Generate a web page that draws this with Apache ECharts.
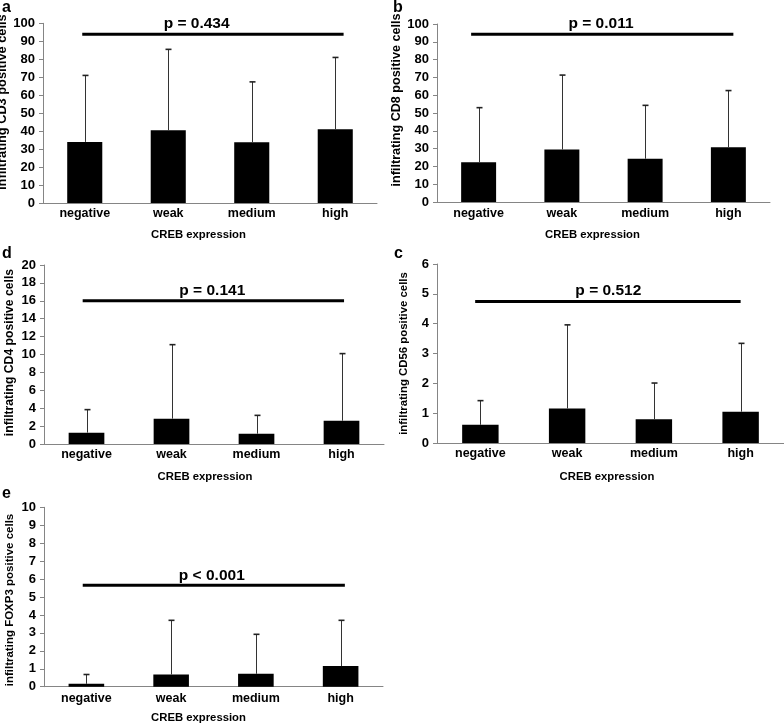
<!DOCTYPE html>
<html>
<head>
<meta charset="utf-8">
<script src="https://cdn.jsdelivr.net/npm/echarts@6/dist/echarts.min.js"></script>
<style>html,body{margin:0;padding:0;background:#fff}#chart{width:784px;height:726px}</style>
</head>
<body>
<div id="chart"></div>
<script>
// ---- data ----
const categories = ['negative', 'weak', 'medium', 'high'];
const xAxisTitle = 'CREB expression';

const cd3Mean = [34, 40.5, 33.8, 41];
const cd3ErrTop = [71, 85.5, 67.4, 81];
const cd8Mean = [22.4, 29.5, 24.3, 30.8];
const cd8ErrTop = [53, 71.3, 54.3, 62.6];
const cd4Mean = [1.27, 2.83, 1.15, 2.6];
const cd4ErrTop = [3.84, 11.1, 3.2, 10.1];
const cd56Mean = [0.61, 1.16, 0.8, 1.05];
const cd56ErrTop = [1.42, 3.96, 2.01, 3.34];
const foxp3Mean = [0.16, 0.68, 0.72, 1.15];
const foxp3ErrTop = [0.68, 3.7, 2.92, 3.7];

const pTexts = ['p = 0.434', 'p = 0.011', 'p = 0.141', 'p = 0.512', 'p < 0.001'];
const yTitles = ['infiltrating CD3 positive cells', 'infiltrating CD8 positive cells',
  'infiltrating CD4 positive cells', 'infiltrating CD56 positive cells', 'infiltrating FOXP3 positive cells'];
const panelLetters = ['a', 'b', 'd', 'c', 'e'];
const yMaxes = [100, 100, 20, 6, 10];
const yIntervals = [10, 10, 2, 1, 1];
const pBarLevels = [93.9, 94.2, 16.0, 4.74, 5.65];

// ---- layout (positions / styles) ----
const layout = [
  {grid: {left: 43, top: 23.3, width: 334, height: 179.7}, line: [-0.03, 3.1], text: [1.34, 100], xPad: 23, yPad: 22, yFs: 12.8, letter: [2, 9], xGap: 26, catMargin: 4},
  {grid: {left: 437, top: 24, width: 333, height: 178}, line: [-0.09, 3.06], text: [1.47, 100], xPad: 22, yPad: 26, yFs: 12.6, letter: [393, 8.5], xGap: 27, catMargin: 5},
  {grid: {left: 44, top: 265, width: 340, height: 179}, line: [-0.045, 3.03], text: [1.48, 17.17], xPad: 18, yPad: 4, yFs: 12.2, letter: [2, 255], xGap: 27, catMargin: 4},
  {grid: {left: 437, top: 264, width: 347, height: 179}, line: [-0.06, 3.0], text: [1.475, 5.12], xPad: 7, yPad: 0, yFs: 11.4, letter: [394, 255], xGap: 28, catMargin: 4},
  {grid: {left: 44, top: 507.3, width: 339, height: 179.4}, line: [-0.043, 3.05], text: [1.48, 6.2], xPad: 30, yPad: -6, yFs: 11.5, letter: [2, 495], xGap: 26, catMargin: 5}
];

const means = [cd3Mean, cd8Mean, cd4Mean, cd56Mean, foxp3Mean];
const tops = [cd3ErrTop, cd8ErrTop, cd4ErrTop, cd56ErrTop, foxp3ErrTop];

const FONT = "'Liberation Sans', Arial, Helvetica, sans-serif";
const AXIS_GRAY = '#858585';

function errRender(params, api) {
  const i = api.value(0), m = api.value(1), t = api.value(2);
  const p0 = api.coord([i, m]);
  const p1 = api.coord([i, t]);
  const x = Math.round(p0[0]) + 0.5;
  const cap = 3;
  return {
    type: 'group',
    children: [
      {type: 'line', shape: {x1: x, y1: p0[1], x2: x, y2: p1[1]}, style: {stroke: '#333', lineWidth: 1}},
      {type: 'line', shape: {x1: x - cap, y1: p1[1], x2: x + cap, y2: p1[1]}, style: {stroke: '#222', lineWidth: 1.6}}
    ]
  };
}

const grids = [], xAxes = [], yAxes = [], series = [], graphics = [];
layout.forEach((L, k) => {
  grids.push(Object.assign({outerBoundsMode: 'none', containLabel: false}, L.grid));
  // category axis (index 2k)
  xAxes.push({
    type: 'category', gridIndex: k, data: categories,
    axisLine: {onZero: false, lineStyle: {color: AXIS_GRAY, width: 1}},
    axisTick: {show: false},
    axisLabel: {color: '#000', fontFamily: FONT, fontWeight: 'bold', fontSize: 12.5, margin: L.catMargin, interval: 0},
    name: xAxisTitle, nameLocation: 'middle', nameGap: L.xGap,
    nameTextStyle: {color: '#000', fontFamily: FONT, fontWeight: 'bold', fontSize: 11.3, padding: [0, L.xPad, 0, 0]},
    splitLine: {show: false}
  });
  // hidden value axis for annotations (index 2k+1)
  xAxes.push({type: 'value', gridIndex: k, min: -0.5, max: 3.5, show: false, splitLine: {show: false},
    axisLine: {onZero: false}});
  yAxes.push({
    type: 'value', gridIndex: k, min: 0, max: yMaxes[k], interval: yIntervals[k],
    axisLine: {show: true, onZero: false, lineStyle: {color: AXIS_GRAY, width: 1}},
    axisTick: {show: true, length: 4, lineStyle: {color: AXIS_GRAY}},
    axisLabel: {color: '#000', fontFamily: FONT, fontWeight: 'bold', fontSize: 13, margin: 8},
    splitLine: {show: false},
    name: yTitles[k], nameLocation: 'middle', nameGap: 28,
    nameTextStyle: {color: '#000', fontFamily: FONT, fontWeight: 'bold', fontSize: L.yFs,
      padding: L.yPad >= 0 ? [0, 0, 0, L.yPad] : [0, -L.yPad, 0, 0]}
  });
  series.push({
    type: 'bar', xAxisIndex: 2 * k, yAxisIndex: k, data: means[k],
    barWidth: '42%', itemStyle: {color: '#000'}, silent: true, z: 2
  });
  series.push({
    type: 'custom', xAxisIndex: 2 * k, yAxisIndex: k,
    data: means[k].map((m, i) => [i, m, tops[k][i]]),
    renderItem: errRender, silent: true, z: 3,
    encode: {x: 0, y: [1, 2]}
  });
  series.push({
    type: 'line', xAxisIndex: 2 * k + 1, yAxisIndex: k,
    data: [[L.line[0], pBarLevels[k]], [L.line[1], pBarLevels[k]]],
    symbol: 'none', lineStyle: {color: '#000', width: 3}, silent: true, z: 4
  });
  series.push({
    type: 'scatter', xAxisIndex: 2 * k + 1, yAxisIndex: k,
    data: [L.text], symbolSize: 1, itemStyle: {color: 'rgba(0,0,0,0)'}, silent: true, clip: false, z: 5,
    label: {show: true, position: 'inside', formatter: () => pTexts[k], color: '#000',
      textBorderWidth: 0, opacity: 1,
      fontFamily: FONT, fontWeight: 'bold', fontSize: 15.5}
  });
  graphics.push({
    type: 'text', left: L.letter[0], top: L.letter[1] - 9,
    style: {text: panelLetters[k], fill: '#000', font: 'bold 16px ' + FONT}
  });
});

const chart = echarts.init(document.getElementById('chart'), null, {renderer: 'canvas'});
chart.setOption({
  animation: false,
  backgroundColor: '#fff',
  grid: grids, xAxis: xAxes, yAxis: yAxes, series: series, graphic: graphics
});
</script>
</body>
</html>
